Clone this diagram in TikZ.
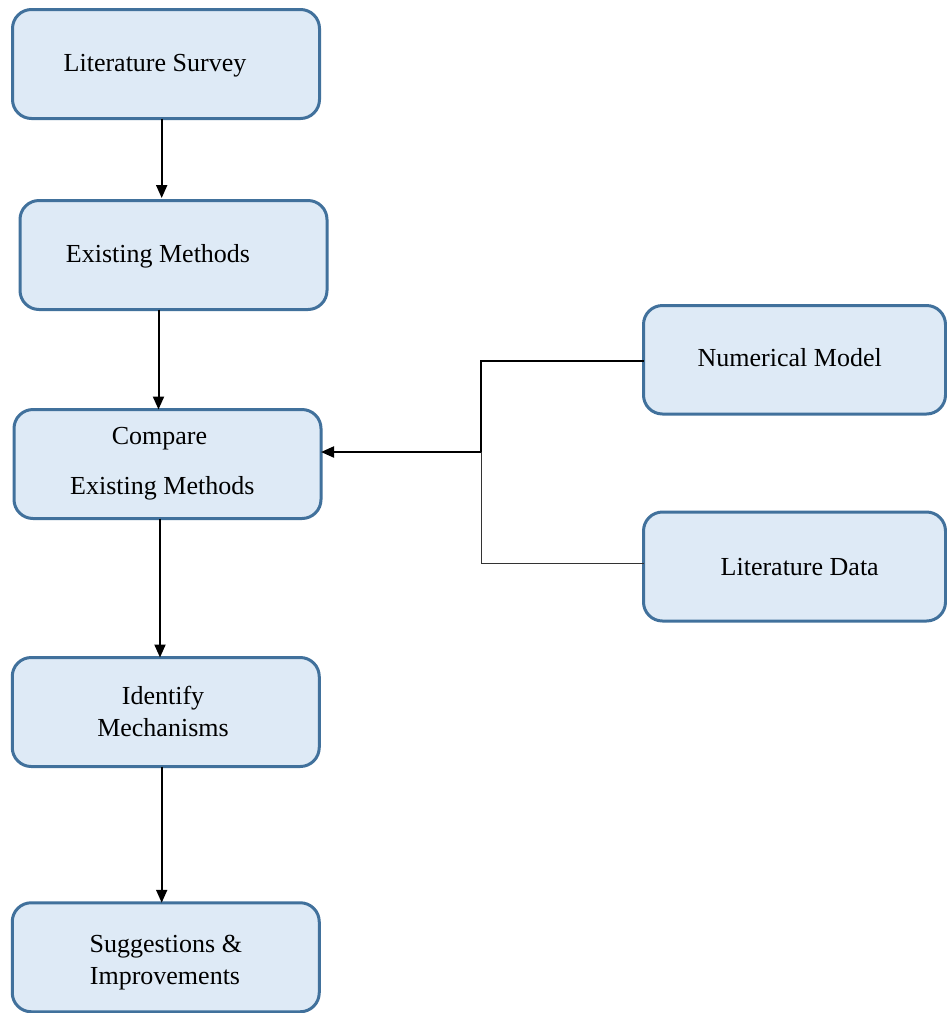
\documentclass[tikz,border=0pt]{standalone}
\usepackage{fontspec}
\setmainfont{Liberation Serif}
\usetikzlibrary{arrows.meta}
\definecolor{boxline}{HTML}{41719C}
\definecolor{boxfill}{HTML}{DEEAF6}
\begin{document}
\begin{tikzpicture}[x=1pt,y=-1pt,
  procbox/.style={draw=boxline,fill=boxfill,line width=3pt,rounded corners=19pt,
    minimum width=307pt,minimum height=109pt,inner sep=0pt,outer sep=0pt},
  lbl/.style={anchor=base,inner sep=0pt,font=\fontsize{26}{32}\selectfont},
  flow/.style={line width=2pt,-{Triangle[length=13pt,width=11pt]}},
  feed/.style={line width=2pt},
  thinfeed/.style={line width=1pt,black!80}]
\useasboundingbox (0,0) rectangle (947,1013);
\fill[white] (0,0) rectangle (947,1013);
% boxes
\node[procbox] (b1) at (166,64) {};
\node[procbox] (b2) at (173.5,255) {};
\node[procbox] (b3) at (167.5,464) {};
\node[procbox] (b4) at (165.75,712) {};
\node[procbox] (b5) at (165.75,957.25) {};
\node[procbox,minimum width=302pt,minimum height=108.5pt] (nm) at (794.5,359.75) {};
\node[procbox,minimum width=302pt,minimum height=109pt] (ld) at (794.5,566.5) {};
% labels
\node[lbl] (t1) at (155,71) {Literature Survey};
\node[lbl] (t2) at (158,262) {Existing Methods};
\node[lbl] (t3a) at (159.5,444.3) {Compare};
\node[lbl] (t3b) at (162.3,494) {Existing Methods};
\node[lbl] (t4a) at (163,704) {Identify};
\node[lbl] (t4b) at (163,736.7) {Mechanisms};
\node[lbl] (t5a) at (165.8,952.7) {Suggestions \&};
\node[lbl] (t5b) at (165,984.3) {Improvements};
\node[lbl] (t6) at (789.7,366.7) {Numerical Model};
\node[lbl] (t7) at (799.7,575.7) {Literature Data};
% junction
\coordinate (j) at (481,452);
% vertical flow arrows
\draw[flow] (161.7,0 |- b1.south) -- (161.7,198);
\draw[flow] (158.5,0 |- b2.south) -- (158.5,0 |- b3.north);
\draw[flow] (160,0 |- b3.south) -- (160,0 |- b4.north);
\draw[flow] (161.7,0 |- b4.south) -- (161.7,0 |- b5.north);
% feedback connectors
\draw[thinfeed] (ld.west |- 0,563.3) -- (j |- 0,563.3) -- (j);
\draw[feed] (nm.west |- 0,360.7) -- (j |- 0,360.7) -- (j);
\draw[flow] (j) -- (b3.east |- j);
\end{tikzpicture}
\end{document}
